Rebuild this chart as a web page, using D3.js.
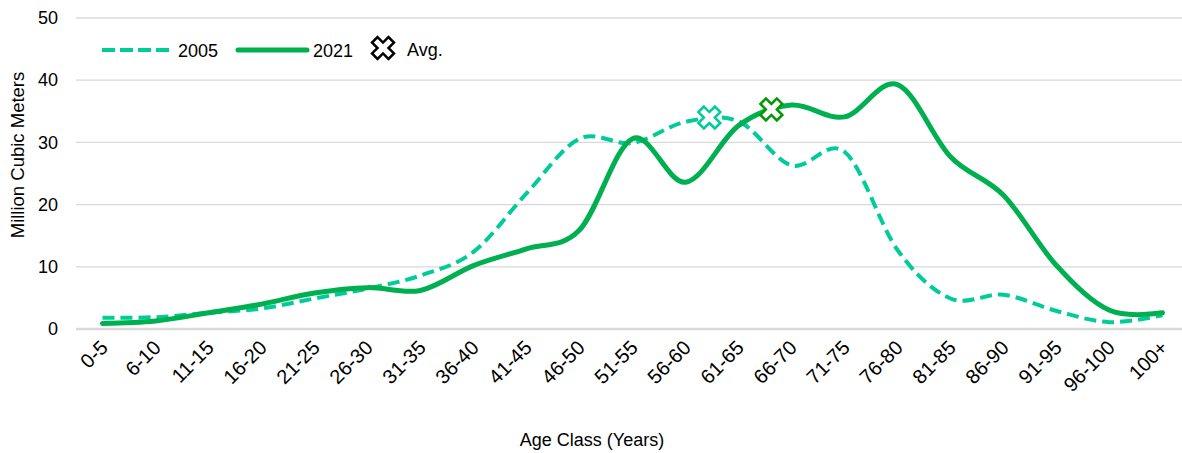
<!DOCTYPE html>
<html>
<head>
<meta charset="utf-8">
<script src="https://cdn.jsdelivr.net/npm/d3@7"></script>
<style>
body{margin:0;background:#fff;}
text{font-family:"Liberation Sans",Arial,sans-serif;fill:#000;}
</style>
</head>
<body>
<div class="Graph"></div>
<script>
// age classes (x categories)
const ageClasses = ["0-5","6-10","11-15","16-20","21-25","26-30","31-35","36-40","41-45","46-50",
	"51-55","56-60","61-65","66-70","71-75","76-80","81-85","86-90","91-95","96-100","100+"];
// million cubic meters
const v2005 = [1.8, 1.9, 2.6, 3.3, 4.9, 6.5, 8.6, 12.4, 21.8, 30.6, 29.9, 33.3, 33.4, 26.3, 28.5, 12.7, 4.9, 5.5, 2.9, 1.1, 2.2];
const v2021 = [0.9, 1.3, 2.6, 4.0, 5.8, 6.65, 6.2, 10.2, 12.9, 15.9, 30.6, 23.6, 32.7, 36.0, 34.1, 39.3, 27.7, 21.5, 10.2, 3.0, 2.6];
// average age (position in class units) and volume
const avgNames = ["2005", "2021"];
const avgPos = [11.45, 12.62];
const avgVal = [34.0, 35.3];
const yTicks = [0, 10, 20, 30, 40, 50];

const W = 1182, H = 453;
const c05 = "#00CC99", c21 = "#00B050", cAvg21 = "#009900";

let svg = d3.select(".Graph").append("svg")
	.attr("width", W).attr("height", H);

let x = d3.scalePoint().domain(ageClasses).range([76, 1189]).padding(0.5);
let xi = i => x(ageClasses[0]) + i * x.step(); // fractional class position
let y = d3.scaleLinear().domain([0, 50]).range([329, 18]);

// grid
svg.append("g").selectAll("line").data(yTicks).enter().append("line")
	.attr("x1", 76).attr("x2", W)
	.attr("y1", d => y(d)).attr("y2", d => y(d))
	.attr("stroke", "#D9D9D9")
	.attr("stroke-width", d => d == 0 ? 2.5 : 1.3);

// y axis labels
let ya = svg.append("g").attr("transform", "translate(58,0)")
	.call(d3.axisLeft(y).tickValues(yTicks).tickSize(0).tickPadding(0));
ya.select(".domain").remove();
ya.selectAll("text").style("font-size", "18px").attr("font-family", null);

// x axis labels
let xa = svg.append("g").attr("transform", "translate(0,329)")
	.call(d3.axisBottom(x).tickSize(0).tickPadding(0));
xa.select(".domain").remove();
xa.selectAll("text")
	.style("font-size", "20px").attr("font-family", null)
	.attr("text-anchor", "end")
	.attr("dy", null).attr("y", 0)
	.attr("transform", "translate(6,20) rotate(-45)");

// axis titles
svg.append("text").attr("x", 592).attr("y", 446)
	.attr("text-anchor", "middle").style("font-size", "18px")
	.text("Age Class (Years)");
svg.append("text").attr("transform", "translate(24,155) rotate(-90)")
	.attr("text-anchor", "middle").style("font-size", "18.5px")
	.text("Million Cubic Meters");

// lines
let line = d3.line()
	.x((d, i) => x(ageClasses[i]))
	.y(d => y(d))
	.curve(d3.curveCatmullRom.alpha(0));

svg.append("path").datum(v2005)
	.attr("d", line).attr("fill", "none")
	.attr("stroke", c05).attr("stroke-width", 4)
	.attr("stroke-dasharray", "12,6");
svg.append("path").datum(v2021)
	.attr("d", line).attr("fill", "none")
	.attr("stroke", c21).attr("stroke-width", 5)
	.attr("stroke-linecap", "round");

// avg markers
let cross = d3.symbol().type(d3.symbolCross).size(300);
svg.append("g").selectAll("path").data(avgNames).enter().append("path")
	.attr("d", cross)
	.attr("transform", (d, i) => "translate(" + xi(avgPos[i]) + "," + y(avgVal[i]) + ") rotate(45)")
	.attr("fill", "#fff")
	.attr("stroke", (d, i) => i == 0 ? c05 : cAvg21)
	.attr("stroke-width", 2.5);

// legend
let lg = svg.append("g");
lg.append("line").attr("x1", 102).attr("x2", 172).attr("y1", 50).attr("y2", 50)
	.attr("stroke", c05).attr("stroke-width", 4).attr("stroke-dasharray", "13,5");
lg.append("text").attr("x", 178).attr("y", 57).style("font-size", "18px").text("2005");
lg.append("line").attr("x1", 238).attr("x2", 307).attr("y1", 50).attr("y2", 50)
	.attr("stroke", c21).attr("stroke-width", 5).attr("stroke-linecap", "round");
lg.append("text").attr("x", 313).attr("y", 57).style("font-size", "18px").text("2021");
lg.append("path").attr("d", cross)
	.attr("transform", "translate(383,48) rotate(45)")
	.attr("fill", "#fff").attr("stroke", "#000").attr("stroke-width", 2.5);
lg.append("text").attr("x", 407).attr("y", 56).style("font-size", "18px").text("Avg.");
</script>
</body>
</html>
